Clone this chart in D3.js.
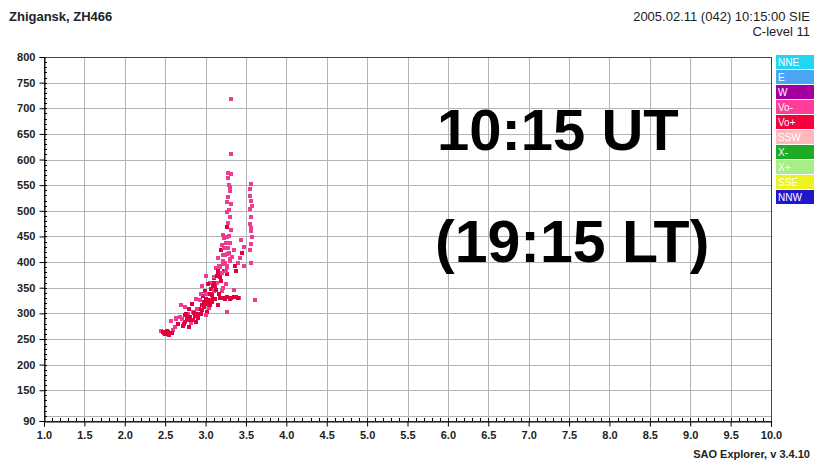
<!DOCTYPE html>
<html>
<head>
<meta charset="utf-8">
<script src="https://cdn.jsdelivr.net/npm/d3@7"></script>
<style>
  html, body { margin: 0; padding: 0; background: #fff; }
  svg { display: block; font-family: Arial, "Liberation Sans", sans-serif; }
</style>
</head>
<body>
<svg id="chart" width="814" height="463"></svg>
<script>
// Ionogram echoes: frequency (MHz), virtual height (km), polarization mode
const freq = [
  2.45,2.47,2.50,2.53,2.55,2.60,2.57,2.62,2.66,2.64,
  2.72,2.74,2.77,2.80,2.82,2.78,2.85,2.87,2.84,2.74,2.70,2.76,2.80,2.83,
  2.90,2.92,2.95,2.93,2.97,2.99,2.96,3.00,3.02,3.04,2.91,2.88,2.94,
  3.05,3.07,3.06,3.09,3.10,3.12,3.11,3.14,3.15,3.13,3.08,3.03,3.01,
  3.17,3.18,3.20,3.21,3.22,3.19,3.24,3.23,3.25,3.16,3.26,3.27,
  3.12,3.18,3.22,3.27,3.32,3.38,3.42,3.15,3.35,
  3.61,3.27,3.00,
  3.28,3.30,3.29,3.31,3.28,3.30,3.29,3.31,3.28,3.30,3.29,3.28,3.28,3.32,3.31,3.31,3.27,3.30,
  3.56,3.55,3.56,3.55,3.56,3.55,3.56,3.57,3.56,3.55,3.56,
  3.43,3.45,3.47,3.44,3.40,3.36,3.35,3.25,3.22,3.26,3.33,3.38,3.47,3.20,3.23,
  2.48,2.52,2.58,2.63,2.68,
  2.73,2.79,2.81,2.86,2.88,2.89,2.75,2.71,
  2.94,2.96,2.98,3.00,3.01,2.98,3.03,3.05,3.06,3.08,
  3.09,3.11,3.13,3.10,3.14,3.16,3.18,3.19,3.21,3.17,
  3.20,3.22,3.24,3.23,3.25,3.27,3.29,3.30,
  3.24,3.30,3.35,3.40,
  3.27,3.26,3.27,3.30,3.55,3.57,3.56
];
const height = [
  268,265,262,266,260,269,287,276,281,292,
  278,285,292,275,283,300,288,296,305,315,318,300,310,320,
  300,310,318,327,335,345,355,322,305,312,292,330,340,
  340,350,362,330,345,355,370,362,380,390,325,360,375,
  395,372,345,405,415,425,400,385,360,410,392,378,
  330,332,331,333,332,334,332,318,348,
  328,305,298,
  430,440,452,465,478,490,503,515,528,540,552,566,576,574,612,720,418,408,
  555,545,522,505,490,476,462,450,438,425,400,
  410,420,432,445,400,395,425,440,455,470,412,385,395,435,448,
  263,268,264,290,295,
  281,288,295,302,285,310,298,290,
  300,308,315,330,340,325,320,328,318,338,
  355,362,348,372,375,385,392,365,352,340,
  380,398,415,430,385,395,420,405,
  330,329,333,331,
  450,500,520,548,530,512,468
];
const mode = [
  "P","R","R","R","R","P","P","P","R","P",
  "R","R","R","R","P","P","R","R","P","P","P","R","R","R",
  "R","R","R","P","R","R","P","R","R","P","R","P","P",
  "R","R","P","R","P","R","R","P","R","P","R","R","P",
  "P","R","P","P","P","R","P","R","P","P","P","R",
  "R","R","R","R","R","R","P","R","P",
  "P","P","P",
  "P","P","P","P","P","P","P","P","P","P","P","P","P","P","P","P","P","P",
  "P","P","P","P","P","P","P","P","P","P","P",
  "P","R","P","P","P","R","P","P","P","R","P","R","P","P","P",
  "R","R","R","P","P",
  "R","R","R","R","R","P","R","P",
  "R","R","R","R","P","R","R","R","R","R",
  "R","R","R","P","R","R","P","R","P","R",
  "P","P","P","P","P","P","P","P",
  "R","R","R","R",
  "P","P","P","P","P","P","P"
];

// Legend entries and colours
const legendNames = ["NNE","E","W","Vo-","Vo+","SSW","X-","X+","SSE","NNW"];
const legendColors = ["#22d6f2","#4aa6f2","#a2009e","#ff3c9a","#f4003c","#ffb8bc","#1eaa22","#a6ee86","#eef21e","#2216cc"];
const modeColor = { P: "#ee3c92", R: "#e0003c" };

const xTicks = d3.range(1.0, 10.01, 0.5);
const yTickLabels = [90,150,200,250,300,350,400,450,500,550,600,650,700,750,800];
const yGrid = d3.range(100, 801, 50);

const svg = d3.select("#chart");
const plotL = 44, plotR = 771, plotT = 57, plotB = 421;

const x = d3.scaleLinear().domain([1, 10]).range([plotL, plotR]);
const y = d3.scaleLinear().domain([90, 800]).range([plotB, plotT]);

// grid
const grid = svg.append("g").attr("stroke", "#b4b4b4").attr("stroke-width", 1).attr("shape-rendering", "crispEdges");
grid.selectAll("line.v").data(xTicks.slice(1, -1)).join("line")
  .attr("x1", d => Math.round(x(d)) + 0.5).attr("x2", d => Math.round(x(d)) + 0.5)
  .attr("y1", plotT).attr("y2", plotB);
grid.selectAll("line.h").data(yGrid.slice(0, -1)).join("line")
  .attr("y1", d => Math.round(y(d)) + 0.5).attr("y2", d => Math.round(y(d)) + 0.5)
  .attr("x1", plotL).attr("x2", plotR);

// frame
svg.append("rect").attr("x", plotL + 0.5).attr("y", plotT + 0.5)
  .attr("width", plotR - plotL).attr("height", plotB - plotT)
  .attr("fill", "none").attr("stroke", "#444").attr("shape-rendering", "crispEdges");

// echoes
svg.append("g").selectAll("rect").data(freq.map((f, i) => ({ f, h: height[i], m: mode[i] })))
  .join("rect")
  .attr("x", d => Math.round(x(d.f)) - 2)
  .attr("y", d => Math.round(y(d.h)) - 1)
  .attr("width", 4).attr("height", 4)
  .attr("fill", d => modeColor[d.m]);

// axes
const xAxis = d3.axisBottom(x).tickValues(xTicks).tickFormat(d3.format(".1f")).tickSize(5);
const gx = svg.append("g").attr("transform", `translate(0,${plotB + 0.5})`).call(xAxis);
gx.select(".domain").attr("stroke", "#000");
gx.selectAll("text").attr("font-size", 11).attr("font-weight", "bold").attr("fill", "#222").attr("dy", "0.9em");
gx.selectAll(".tick line").attr("stroke", "#000");
svg.append("g").attr("stroke", "#000").attr("shape-rendering", "crispEdges")
  .selectAll("line").data(d3.range(1.1, 10, 0.1)).join("line")
  .attr("x1", d => Math.round(x(d)) + 0.5).attr("x2", d => Math.round(x(d)) + 0.5)
  .attr("y1", plotB).attr("y2", plotB - 3);

const yAxis = d3.axisLeft(y).tickValues(yTickLabels).tickFormat(d3.format("d")).tickSize(5);
const gy = svg.append("g").attr("transform", `translate(${plotL + 0.5},0)`).call(yAxis);
gy.select(".domain").attr("stroke", "#000");
gy.selectAll("text").attr("font-size", 11).attr("font-weight", "bold").attr("fill", "#222").attr("dx", "-0.1em");
gy.selectAll(".tick line").attr("stroke", "#000");
svg.append("g").attr("stroke", "#000").attr("shape-rendering", "crispEdges")
  .selectAll("line").data(d3.range(100, 800, 10)).join("line")
  .attr("y1", d => Math.round(y(d)) + 0.5).attr("y2", d => Math.round(y(d)) + 0.5)
  .attr("x1", plotL).attr("x2", plotL + 3);

// legend
const lg = svg.append("g").attr("transform", "translate(776,55)");
const item = lg.selectAll("g").data(legendNames).join("g")
  .attr("transform", (d, i) => `translate(0,${i * 15})`);
item.append("rect").attr("width", 38).attr("height", 14).attr("fill", (d, i) => legendColors[i]);
item.append("text").attr("x", 2).attr("y", 11).attr("font-size", 10).attr("fill", "#fff").text(d => d);

// header and footer text
svg.append("text").attr("x", 9).attr("y", 21).attr("font-size", 13).attr("font-weight", "bold").attr("fill", "#222").text("Zhigansk, ZH466");
svg.append("text").attr("x", 810).attr("y", 21).attr("text-anchor", "end").attr("font-size", 13).attr("fill", "#222").text("2005.02.11 (042) 10:15:00 SIE");
svg.append("text").attr("x", 810).attr("y", 36).attr("text-anchor", "end").attr("font-size", 13).attr("fill", "#222").text("C-level 11");
svg.append("text").attr("x", 810).attr("y", 458).attr("text-anchor", "end").attr("font-size", 11).attr("font-weight", "bold").attr("fill", "#222").text("SAO Explorer, v 3.4.10");

// time annotations
svg.append("text").attr("x", 437).attr("y", 150).attr("font-size", 58).attr("font-weight", "bold").attr("fill", "#000").text("10:15 UT");
svg.append("text").attr("x", 435).attr("y", 262).attr("font-size", 59).attr("font-weight", "bold").attr("fill", "#000").text("(19:15 LT)");
</script>
</body>
</html>
